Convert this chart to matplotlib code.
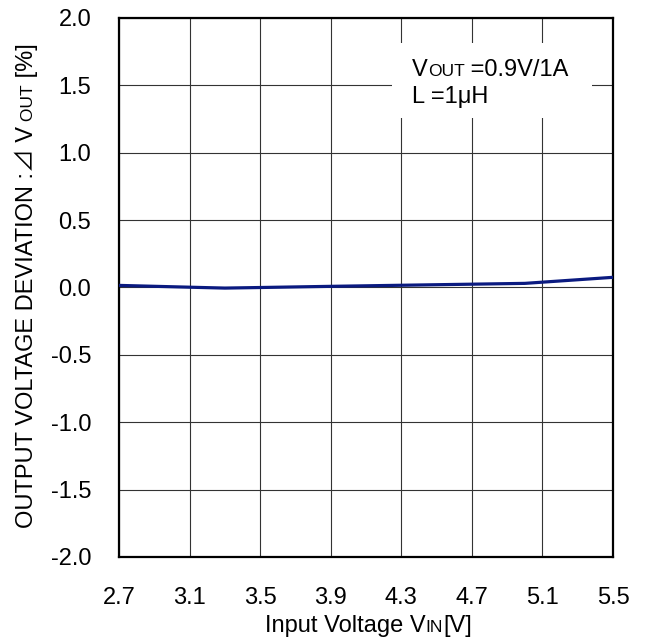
import matplotlib
matplotlib.use('Agg')
from matplotlib import pyplot as plt
from matplotlib.transforms import IdentityTransform

plt.rcParams['font.family'] = ['Liberation Sans', 'Noto Sans CJK JP', 'DejaVu Sans']

vin = [2.7, 3.3, 3.9, 4.5, 5.0, 5.5]
deviation = [0.015, -0.005, 0.008, 0.02, 0.03, 0.075]
xticks = [2.7, 3.1, 3.5, 3.9, 4.3, 4.7, 5.1, 5.5]
yticks = [-2.0, -1.5, -1.0, -0.5, 0.0, 0.5, 1.0, 1.5, 2.0]

BIG = 17
SMALL = 12.5

fig = plt.figure(figsize=(6.45, 6.38), dpi=100)
ax = fig.add_axes([0.1845, 0.127, 0.766, 0.845])

ax.plot(vin, deviation, color='#0a1a80', lw=2.3, zorder=3)
ax.set_xlim(2.7, 5.5)
ax.set_ylim(-2.0, 2.0)
ax.set_xticks(xticks)
ax.set_yticks(yticks)
ax.set_xticklabels(['%.1f' % t for t in xticks])
ax.set_yticklabels(['%.1f' % t for t in yticks])
ax.tick_params(length=0, labelsize=BIG)
ax.tick_params(axis='x', pad=21.5)
ax.tick_params(axis='y', pad=20)
ax.grid(True, color='#333333', lw=0.8)
for s in ax.spines.values():
    s.set_linewidth(1.6)

renderer = fig.canvas.get_renderer()


def put_text(pieces, x, y, rot=0):
    # text pieces on one baseline, each with its own size (x, y in pixels)
    for txt, size in pieces:
        t = fig.text(x, y, txt, fontsize=size, rotation=rot,
                     rotation_mode='anchor', ha='left', va='baseline',
                     transform=IdentityTransform())
        bb = t.get_window_extent(renderer)
        if rot == 0:
            x += bb.width
        else:
            y += bb.height


# note box
ax.add_patch(plt.Rectangle((0.553, 0.814), 0.405, 0.14, transform=ax.transAxes,
                           facecolor='white', edgecolor='none', zorder=5))
put_text([('V', BIG), ('OUT', SMALL), (' =0.9V/1A', BIG)], 412, 562)
put_text([('L =1μH', BIG)], 412, 535)

# y label
put_text([('OUTPUT VOLTAGE DEVIATION :⊿ V', BIG), (' OUT', SMALL), (' [%]', BIG)],
         33, 110, rot=90)

# x label
put_text([('Input Voltage V', BIG), ('IN', SMALL), ('[V]', BIG)], 265, 6)

fig.savefig('out.png', dpi=100)
